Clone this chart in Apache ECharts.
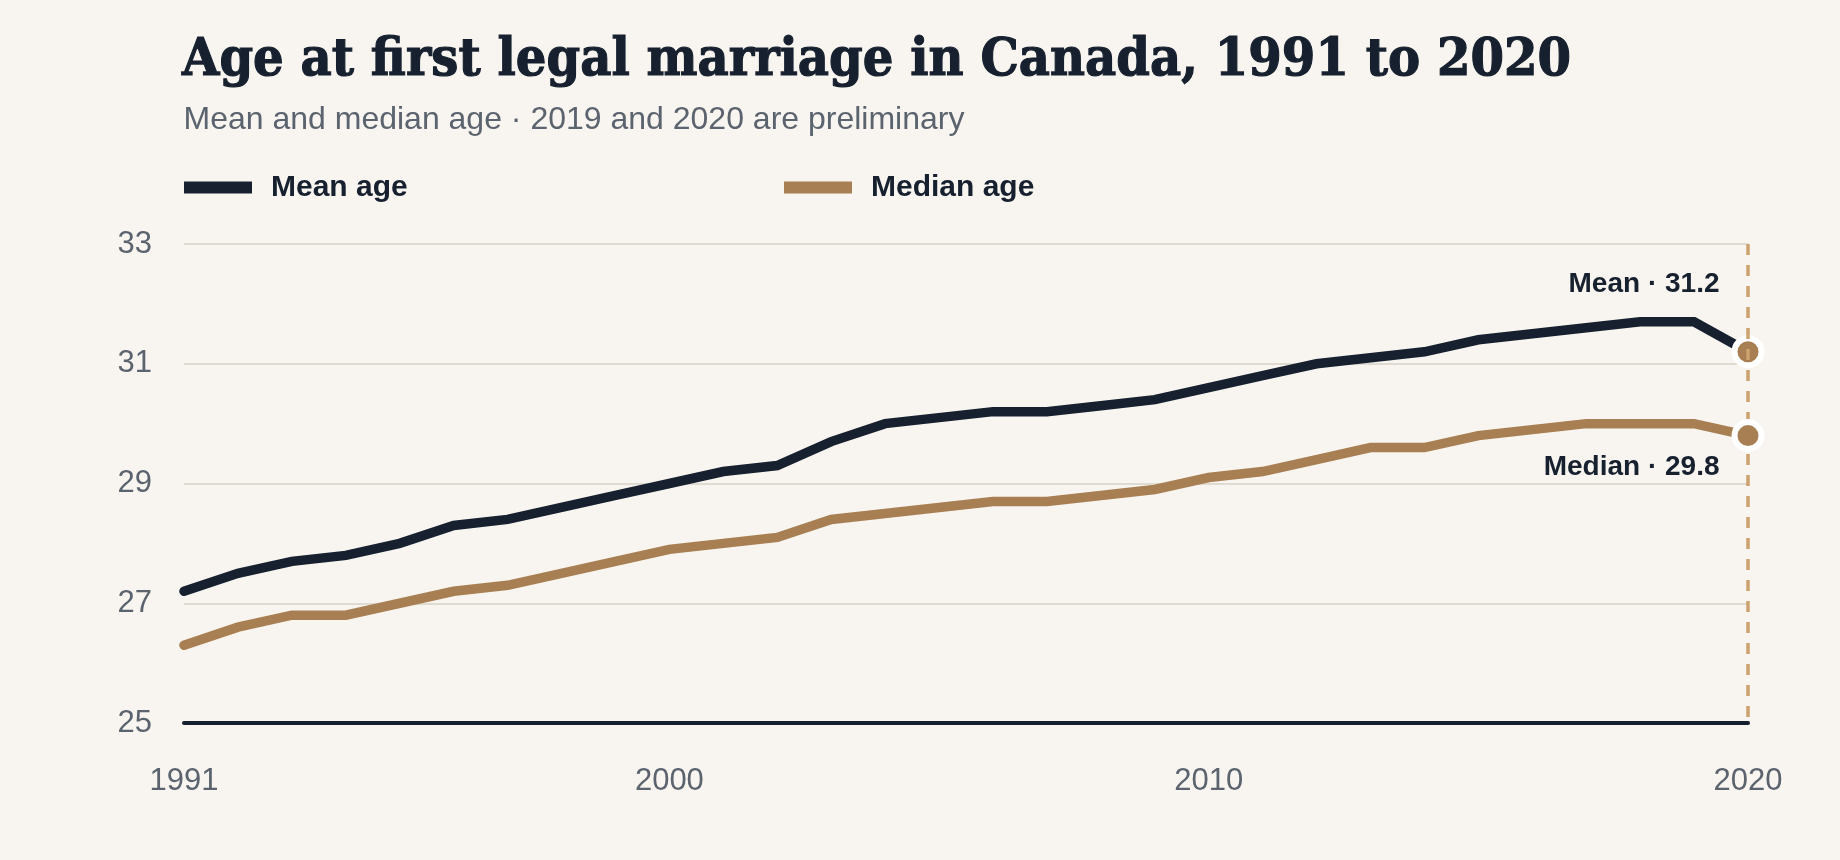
<!DOCTYPE html>
<html>
<head>
<meta charset="utf-8">
<script src="https://cdn.jsdelivr.net/npm/echarts@6/dist/echarts.min.js"></script>
<style>
  html, body { margin: 0; padding: 0; background: #f8f5f0; }
  #chart { width: 1840px; height: 860px; }
</style>
</head>
<body>
<div id="chart"></div>
<script>
// ---- Data ----
const years = ['1991','1992','1993','1994','1995','1996','1997','1998','1999','2000',
               '2001','2002','2003','2004','2005','2006','2007','2008','2009','2010',
               '2011','2012','2013','2014','2015','2016','2017','2018','2019','2020'];
const meanAge = [27.2, 27.5, 27.7, 27.8, 28.0, 28.3, 28.4, 28.6, 28.8, 29.0,
                 29.2, 29.3, 29.7, 30.0, 30.1, 30.2, 30.2, 30.3, 30.4, 30.6,
                 30.8, 31.0, 31.1, 31.2, 31.4, 31.5, 31.6, 31.7, 31.7, 31.2];
const medianAge = [26.3, 26.6, 26.8, 26.8, 27.0, 27.2, 27.3, 27.5, 27.7, 27.9,
                   28.0, 28.1, 28.4, 28.5, 28.6, 28.7, 28.7, 28.8, 28.9, 29.1,
                   29.2, 29.4, 29.6, 29.6, 29.8, 29.9, 30.0, 30.0, 30.0, 29.8];
const xTickLabels = ['1991', '2000', '2010', '2020'];
const yMin = 25, yMax = 33, yStep = 2;
const titleText = 'Age at first legal marriage in Canada, 1991 to 2020';
const subtitleText = 'Mean and median age · 2019 and 2020 are preliminary';
const seriesNames = ['Mean age', 'Median age'];
const endLabelNames = ['Mean', 'Median'];

// ---- Styles ----
const DARK = '#16202e';
const TAN = '#a87f52';
const DASH = '#cca26e';
const GREY = '#5b636e';
const SANS = 'Liberation Sans';
const lastIdx = years.length - 1;

// Title: serif bold, fitted horizontally to the reference title width
const TITLE_FONT = 'bold 52px "DejaVu Serif"';
const TITLE_WIDTH = 1388;
const mctx = document.createElement('canvas').getContext('2d');
mctx.font = TITLE_FONT;
const tm = mctx.measureText(titleText);
const inkW = (tm.actualBoundingBoxRight || tm.width) + (tm.actualBoundingBoxLeft || 0);
const titleScale = TITLE_WIDTH / inkW;

const chart = echarts.init(document.getElementById('chart'), null, { renderer: 'canvas' });

const dotStyle = { color: TAN, borderColor: '#ffffff', borderWidth: 6, opacity: 1 };
const endLabel = {
  show: true,
  align: 'right',
  verticalAlign: 'middle',
  fontFamily: SANS, fontWeight: 'bold', fontSize: 28, color: DARK
};

const option = {
  backgroundColor: '#f8f5f0',
  animation: false,
  graphic: [
    {
      type: 'text',
      x: 182, y: 61,
      scaleX: titleScale,
      silent: true,
      style: {
        text: titleText,
        font: TITLE_FONT,
        fill: DARK,
        stroke: DARK,
        lineWidth: 1.2,
        align: 'left',
        verticalAlign: 'middle'
      }
    },
    {
      type: 'text',
      x: 183.5, y: 120,
      silent: true,
      style: {
        text: subtitleText,
        font: '32px "Liberation Sans"',
        fill: GREY,
        align: 'left',
        verticalAlign: 'middle'
      }
    }
  ],
  legend: [
    {
      data: [seriesNames[0]],
      left: 184, top: 172.5, padding: 0,
      icon: 'rect', itemWidth: 68, itemHeight: 12,
      textStyle: { fontFamily: SANS, fontWeight: 'bold', fontSize: 30, color: DARK, padding: [0, 0, 0, 14] }
    },
    {
      data: [seriesNames[1]],
      left: 784, top: 172.5, padding: 0,
      icon: 'rect', itemWidth: 68, itemHeight: 12,
      textStyle: { fontFamily: SANS, fontWeight: 'bold', fontSize: 30, color: DARK, padding: [0, 0, 0, 14] }
    }
  ],
  grid: { left: 184, right: 92, top: 244, bottom: 137, containLabel: false },
  xAxis: {
    type: 'category',
    data: years,
    boundaryGap: false,
    axisLine: { show: true, lineStyle: { color: DARK, width: 4 } },
    axisTick: { show: false },
    splitLine: { show: false },
    axisLabel: {
      interval: (idx, val) => xTickLabels.includes(val),
      margin: 43,
      fontFamily: SANS, fontSize: 31, color: GREY
    }
  },
  yAxis: {
    type: 'value',
    min: yMin, max: yMax, interval: yStep,
    axisLine: { show: false },
    axisTick: { show: false },
    splitLine: { lineStyle: { color: '#d9d2c8', width: 1.5 } },
    axisLabel: { margin: 32, fontFamily: SANS, fontSize: 31, color: GREY }
  },
  series: [
    {
      name: seriesNames[0],
      type: 'line',
      data: meanAge,
      showSymbol: false,
      symbol: 'none',
      lineStyle: { color: DARK, width: 9.5, cap: 'round', join: 'miter' },
      itemStyle: { color: DARK },
      z: 3,
      markLine: {
        silent: true,
        z: 5,
        symbol: ['none', 'none'],
        label: { show: false },
        lineStyle: { color: DASH, type: [11, 10], width: 3.5 },
        data: [[{ coord: [years[lastIdx], yMax] }, { coord: [years[lastIdx], yMin] }]]
      }
    },
    {
      name: seriesNames[1],
      type: 'line',
      data: medianAge,
      showSymbol: false,
      symbol: 'none',
      lineStyle: { color: TAN, width: 9.5, cap: 'round', join: 'miter' },
      itemStyle: { color: TAN },
      z: 3
    },
    {
      type: 'scatter',
      z: 4,
      symbol: 'circle',
      symbolSize: 27,
      itemStyle: dotStyle,
      label: endLabel,
      emphasis: { disabled: true },
      data: [
        {
          value: [years[lastIdx], meanAge[lastIdx]],
          label: { position: [-12, -50.5], formatter: endLabelNames[0] + ' · ' + meanAge[lastIdx].toFixed(1) }
        }
      ]
    },
    {
      type: 'scatter',
      z: 6,
      symbol: 'circle',
      symbolSize: 27,
      itemStyle: dotStyle,
      label: endLabel,
      emphasis: { disabled: true },
      data: [
        {
          value: [years[lastIdx], medianAge[lastIdx]],
          label: { position: [-12, 48], formatter: endLabelNames[1] + ' · ' + medianAge[lastIdx].toFixed(1) }
        }
      ]
    }
  ]
};

chart.setOption(option);
</script>
</body>
</html>
